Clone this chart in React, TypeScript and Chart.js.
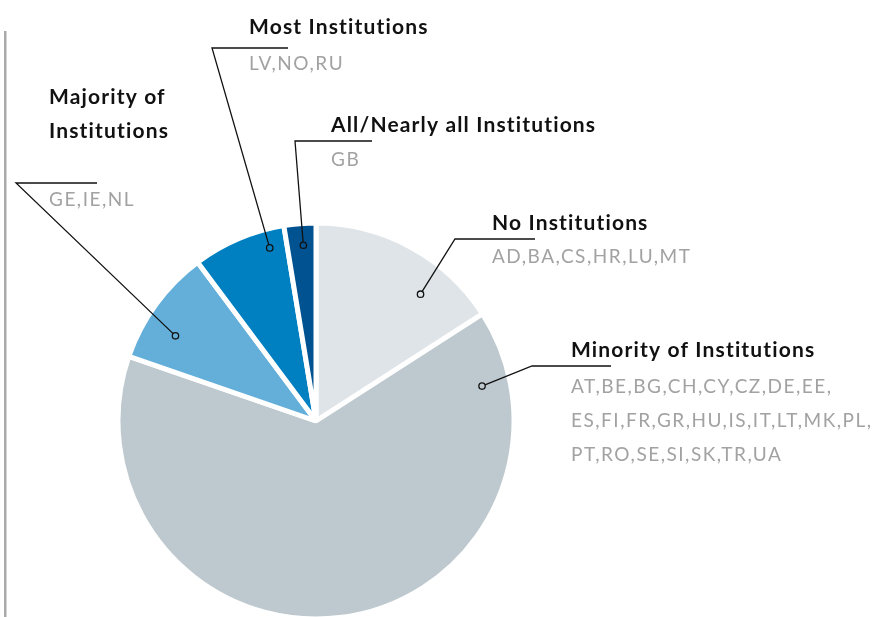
import React, { useEffect, useRef } from "react";
import { Chart, registerables } from "chart.js";

Chart.register(...registerables);

// ---- data ----
const categories = [
  "No Institutions",
  "Minority of Institutions",
  "Majority of Institutions",
  "Most Institutions",
  "All/Nearly all Institutions",
];
const shares = [15.9, 64.4, 9.5, 7.6, 2.6];
const titleLines = [
  ["No Institutions"],
  ["Minority of Institutions"],
  ["Majority of", "Institutions"],
  ["Most Institutions"],
  ["All/Nearly all Institutions"],
];
const countryLines = [
  ["AD,BA,CS,HR,LU,MT"],
  ["AT,BE,BG,CH,CY,CZ,DE,EE,", "ES,FI,FR,GR,HU,IS,IT,LT,MK,PL,", "PT,RO,SE,SI,SK,TR,UA"],
  ["GE,IE,NL"],
  ["LV,NO,RU"],
  ["GB"],
];
const sliceColors = ["#dfe4e8", "#bec9cf", "#63afd9", "#0080c1", "#005291"];

// ---- label layout (annotation positions) ----
const labelLayout = [
  { t: 0.69, r: 0.83, ex: 455, ey: 239, lx: 535, tx: 492, ty: 230, cy: 263 },
  { t: 0.09, r: 0.857, ex: 532, ey: 366, lx: 611, tx: 571, ty: 357, cy: 393 },
  { t: 0.355, r: 0.83, ex: 16, ey: 183, lx: 97, tx: 49, ty: 138, cy: 206 },
  { t: 0.795, r: 0.905, ex: 212, ey: 48, lx: 288, tx: 249, ty: 34, cy: 70 },
  { t: 0.56, r: 0.89, ex: 295, ey: 141, lx: 372, tx: 331, ty: 132, cy: 166 },
];

const FONT = "Lato, 'Open Sans', sans-serif";

function drawSpaced(ctx: any, s: string, x: number, y: number, spacing: number) {
  if ("letterSpacing" in ctx) {
    ctx.letterSpacing = spacing + "px";
    ctx.fillText(s, x, y);
    ctx.letterSpacing = "0px";
    return;
  }
  let cx = x;
  for (const ch of s) {
    ctx.fillText(ch, cx, y);
    cx += ctx.measureText(ch).width + spacing;
  }
}

const labelPlugin = {
  id: "leaderLabels",
  afterDraw(chart: any) {
    const ctx = chart.ctx;
    const meta = chart.getDatasetMeta(0);
    ctx.save();
    // left rule
    ctx.strokeStyle = "#a9a9a9";
    ctx.lineWidth = 2.5;
    ctx.beginPath();
    ctx.moveTo(5.25, 31);
    ctx.lineTo(5.25, 617);
    ctx.stroke();

    meta.data.forEach((arc: any, i: number) => {
      const p = arc.getProps(["x", "y", "startAngle", "endAngle", "outerRadius"], true);
      const L = labelLayout[i];
      const a = p.startAngle + (p.endAngle - p.startAngle) * L.t;
      const rr = p.outerRadius * L.r;
      const dx = p.x + Math.cos(a) * rr;
      const dy = p.y + Math.sin(a) * rr;
      ctx.strokeStyle = "#111";
      ctx.lineWidth = 1.3;
      ctx.beginPath();
      ctx.moveTo(L.lx, L.ey);
      ctx.lineTo(L.ex, L.ey);
      const vx = dx - L.ex, vy = dy - L.ey;
      const len = Math.hypot(vx, vy);
      ctx.lineTo(dx - (vx / len) * 3.2, dy - (vy / len) * 3.2);
      ctx.stroke();
      ctx.beginPath();
      ctx.arc(dx, dy, 3.2, 0, Math.PI * 2);
      ctx.stroke();

      ctx.textAlign = "left";
      ctx.textBaseline = "alphabetic";
      ctx.fillStyle = "#111";
      ctx.font = "bold 21px " + FONT;
      const tl = titleLines[i];
      tl.forEach((s, k) => {
        drawSpaced(ctx, s, L.tx, L.ty - (tl.length - 1 - k) * 34, 1.15);
      });
      ctx.fillStyle = "#a2a2a2";
      ctx.font = "19px " + FONT;
      countryLines[i].forEach((s, k) => {
        drawSpaced(ctx, s, L.tx, L.cy + k * 34, 1.5);
      });
    });
    ctx.restore();
  },
};

export default function App() {
  const ref = useRef<HTMLCanvasElement>(null);
  useEffect(() => {
    if (!ref.current) return;
    const chart = new Chart(ref.current, {
      type: "pie",
      data: {
        labels: categories,
        datasets: [
          {
            data: shares,
            backgroundColor: sliceColors,
            borderColor: "#ffffff",
            borderWidth: 5,
            clip: false as any,
          },
        ],
      },
      options: {
        responsive: false,
        animation: false,
        radius: 198,
        layout: { padding: { left: 0, right: 244, top: 225, bottom: 0 } },
        plugins: {
          legend: { display: false },
          tooltip: { enabled: false },
        },
      } as any,
      plugins: [labelPlugin],
    });
    return () => chart.destroy();
  }, []);
  return (
    <div style={{ position: "absolute", left: 0, top: 0, width: 876, height: 617, background: "#fff" }}>
      <canvas ref={ref} width={876} height={617} style={{ display: "block" }} />
    </div>
  );
}
